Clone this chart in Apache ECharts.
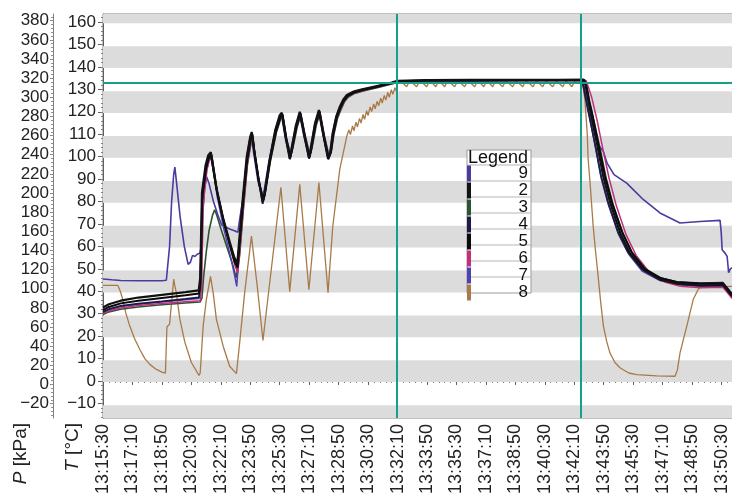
<!DOCTYPE html>
<html><head><meta charset="utf-8">
<script src="https://cdn.jsdelivr.net/npm/echarts@6/dist/echarts.min.js"></script>
<style>html,body{margin:0;padding:0;background:#fff}#c{width:732px;height:495px}</style>
</head><body><div id="c"></div>
<script>
// ---- axis ticks / labels ----
const START_TIME = '13:15:30';          // x = seconds after this time
const X_STEP = 100;                       // one tick label every 100 s
const T_TICKS = [-10,0,10,20,30,40,50,60,70,80,90,100,110,120,130,140,150,160];
const P_TICKS = [-20,0,20,40,60,80,100,120,140,160,180,200,220,240,260,280,300,320,340,360,380];
const LEGEND_ORDER = ['9','2','3','4','5','6','7','8'];
const HOLD_TEMP = 133.1;                  // horizontal reference line, °C
const PHASE_TIMES = [998, 1621];          // vertical reference lines, s

// ---- temperature series [s, °C] ----
const s2 = [[0,32.8],[20,34.2],[60,35.8],[120,37.2],[200,38.4],[280,39.6],[325,40.4],[330,46],[336,84],[341,89],[348,96],[357,100.5],[366,102],[372,97],[385,86],[407,73],[430,62],[446,55],[456,52.5],[462,62],[475,82],[488,100],[500,109],[505,111],[512,104],[527,91],[542,80],[548,83],[565,98],[585,112],[600,118.5],[607,119.6],[620,109],[634,99],[640,103],[655,114],[668,120],[683,110],[699,99.5],[705,103],[720,115],[733,120.8],[748,110],[764,99],[772,102],[780,110.5],[792,118],[804,122.3],[816,125.5],[828,127.5],[850,129],[880,130],[930,131.5],[980,133],[1000,133.8],[1100,134.1],[1250,134.2],[1400,134.3],[1550,134.3],[1632,134.4],[1638,132],[1645,127],[1654,121],[1677,106],[1698,91.5],[1722,79.5],[1756,66],[1789,57],[1835,49.5],[1891,45.2],[1948,43.4],[2027,42.6],[2105,42.8],[2136,37.8]];
const s3 = [[0,29.6],[20,30.8],[60,32],[120,33],[200,34],[280,34.8],[330,35.2],[336,37],[342,47],[351,58],[360,67],[372,74],[379,76.3],[386,74],[400,68],[420,60],[440,52],[452,46],[458,45.5],[464,56],[477,77],[490,96],[503,106.5],[509,108.5],[516,100],[531,87],[546,81],[552,84.5],[569,98.5],[589,111],[604,117],[611,118.2],[624,107.5],[638,100.5],[644,103.5],[659,113],[672,118.8],[687,109],[703,100.5],[709,103.5],[724,114],[737,119.5],[752,109],[768,100],[776,102.8],[784,110],[796,117],[808,121],[820,124.5],[832,126.5],[854,128.2],[884,129.3],[934,130.9],[984,132.5],[1004,133.4],[1100,133.7],[1250,133.8],[1400,133.9],[1550,134],[1636,134],[1644,130.5],[1652,124.5],[1665,117],[1687,104],[1708,90.5],[1732,78.5],[1766,65.5],[1800,56],[1845,49],[1900,45],[1955,43],[2030,42.2],[2105,42.3],[2136,37.2]];
const s4 = [[0,30.8],[20,32],[60,33.5],[120,34.5],[200,35.5],[280,36.6],[326,37.3],[331,43],[337,80],[342,87],[349,94],[358,99],[366,100.5],[373,95.5],[386,85],[408,72],[431,61],[447,54],[456,51],[462,60],[475,80.5],[488,99],[500,108.5],[506,110.2],[513,103],[528,90],[542,79],[548,82.5],[565,97.5],[585,111.5],[601,118],[608,119.2],[621,108.5],[635,98.8],[641,102.5],[656,113.8],[669,119.7],[684,109.5],[700,99],[706,102.5],[721,114.8],[734,120.5],[749,109.5],[765,98.8],[773,101.5],[781,110],[793,117.8],[805,122],[817,125.2],[829,127.2],[851,128.8],[881,129.9],[931,131.3],[981,132.9],[1001,133.7],[1100,133.9],[1250,134],[1400,134.1],[1550,134.2],[1626,134.2],[1632,131],[1638,126.5],[1647,120.5],[1670,106],[1690,92],[1714,80],[1748,66.5],[1782,57.5],[1830,50],[1891,46],[1948,44.2],[2027,43.6],[2105,43.8],[2136,38.8]];
const s5 = [[0,31.6],[20,33],[60,34.6],[120,35.8],[200,37],[280,38.2],[326,39],[331,45],[337,83],[343,88],[350,95],[359,99.5],[368,101],[375,95],[388,84],[410,71],[432,60],[447,53],[457,50.5],[463,60],[476,80],[489,98],[502,108],[507,110],[514,102],[529,89],[544,80.5],[550,84],[567,98],[587,111],[602,117.5],[609,118.8],[622,108],[636,100],[642,103.5],[657,113.5],[670,119.3],[685,109],[701,100],[707,103.5],[722,114.5],[735,120],[750,109],[766,99.5],[774,102.5],[782,110],[794,117.5],[806,121.8],[818,125],[830,127],[852,128.6],[882,129.7],[932,131.2],[982,132.8],[1002,133.6],[1100,133.9],[1250,134],[1400,134.1],[1550,134.1],[1634,134.2],[1642,131],[1650,125],[1660,119.5],[1682,105.5],[1704,91.5],[1728,79.5],[1762,66.5],[1795,57.5],[1840,50],[1895,45.8],[1950,44],[2030,43.3],[2105,43.4],[2136,38.2]];
const s6 = [[0,30],[20,31.2],[60,32.5],[120,33.6],[200,34.5],[280,35.3],[330,35.8],[335,42],[340,78],[346,86],[353,94],[362,99],[370,100],[377,93],[390,82],[412,70],[434,58.5],[449,51],[458,48.2],[464,58],[477,78],[490,97],[503,107],[508,109],[515,101],[530,88],[545,82],[551,85],[568,99],[588,112],[603,118],[610,119],[623,108],[637,101],[643,104],[658,114],[671,119.5],[686,109.5],[702,100.5],[708,104],[723,115],[736,120.3],[751,109.5],[767,100],[775,103],[783,110.5],[795,117.5],[807,121.5],[819,124.8],[831,126.8],[853,128.4],[883,129.5],[933,131],[983,132.6],[1003,133.5],[1100,133.8],[1250,133.9],[1400,134],[1550,134],[1640,134],[1648,131],[1660,126],[1677,116.5],[1697,103.5],[1718,90.5],[1742,78.5],[1775,65.5],[1810,56],[1855,48.5],[1910,44],[1960,42.2],[2030,41.6],[2105,41.8],[2136,36.8]];
const s7 = [[0,30.4],[20,31.8],[60,33.2],[120,34.2],[200,35.2],[280,36.2],[326,36.8],[331,42],[337,79],[343,86],[350,93],[359,98],[367,99.5],[374,94],[388,82],[410,68],[432,56],[447,47],[454,42.2],[461,55],[474,77],[487,97],[499,107],[504,109],[511,102],[526,89],[541,82],[547,85],[564,98.5],[584,111],[599,117.2],[606,118.5],[619,108],[633,100.5],[639,104],[654,113.5],[667,119],[682,109],[698,100.5],[704,104],[719,114.5],[732,120],[747,109.5],[763,100],[771,103],[779,110.5],[791,117.5],[803,121.5],[815,125],[827,127],[849,128.6],[879,129.7],[929,131.2],[979,132.8],[999,133.6],[1100,133.9],[1250,134],[1400,134.1],[1550,134.1],[1627,134.1],[1633,130],[1640,125.5],[1650,119],[1672,104],[1692,90],[1716,78.5],[1750,65.5],[1785,56.5],[1830,49],[1891,44.8],[1948,43],[2027,42.3],[2105,42.5],[2136,37.6]];
const s9 = [[0,45.5],[30,45.1],[60,44.8],[120,44.7],[200,44.7],[215,44.9],[220,45.5],[226,60],[233,80],[240,92],[244,95.3],[250,88],[262,73],[276,60],[289,52],[297,53],[304,56],[312,55.5],[320,56.5],[329,57],[334,60],[339,75],[345,86],[352,91],[360,88],[375,80],[390,74],[403,69.5],[413,68.8],[430,67.8],[446,67],[458,66.3],[464,72],[476,82],[489,98],[501,107.5],[506,109.5],[513,102],[528,90],[543,81],[549,84],[566,98],[586,111],[601,117.5],[608,118.6],[621,108],[635,100],[641,103],[656,113],[669,119],[684,109],[700,100],[706,103],[721,114],[734,120],[749,109],[765,99.5],[773,102.5],[781,110],[793,117.5],[805,121.5],[817,125],[829,127],[851,128.6],[881,129.7],[931,131.2],[981,132.8],[1001,133.6],[1100,133.8],[1250,133.9],[1400,134],[1550,134],[1628,134],[1634,130.5],[1641,126],[1652,119.5],[1668,111],[1677,106.5],[1686,104.5],[1692,105],[1698,102.5],[1712,97],[1735,92],[1778,88.2],[1835,80.8],[1891,74.9],[1959,70.4],[2027,71.1],[2095,71.6],[2099,66],[2102,58.5],[2112,57],[2119,55.5],[2124,48.3],[2130,50],[2136,50.5]];

// ---- pressure series [s, kPa] ----
const s8 = [[0,103.6],[50,103.6],[58,98],[67,89],[78,74],[91,61],[107,48],[125,36.5],[142,27],[159,21],[180,16],[200,13],[212,12],[217,60],[222,62],[226,63],[240,110],[244,103],[249,96],[261,68],[278,44],[300,23],[326,9.5],[330,12],[340,61],[351,89],[365,113],[374,96],[385,68],[408,40],[430,19],[453,11.4],[464,43.6],[481,96],[504,155],[525,99],[543,46],[604,206],[634,97],[668,209],[699,99],[733,211],[764,96],[780,165],[804,225],[828,259.6],[835,266],[840,261],[847,270],[852,265],[859,274],[864,269],[871,278],[876,273],[883,282],[888,277],[895,286],[900,281],[907,290],[912,285],[919,293],[924,288],[931,296],[936,291],[943,299],[948,294],[955,302],[960,297],[967,305],[972,300],[979,308],[984,303],[991,310],[996,306],[1000,316],[1009,317.5],[1031,311],[1042,317.5],[1065,311],[1076,317.5],[1099,311],[1110,317.5],[1130,311],[1141,317.5],[1160,311],[1171,317.5],[1194,311],[1205,317.5],[1228,311],[1239,317.5],[1262,311],[1273,317.5],[1293,311],[1304,317.5],[1323,311],[1334,317.5],[1357,311],[1368,317.5],[1391,311],[1402,317.5],[1425,311],[1436,317.5],[1460,311],[1471,317.5],[1493,311],[1504,317.5],[1527,311],[1538,317.5],[1561,311],[1572,317.5],[1592,311],[1603,317.5],[1622,317.5],[1627,314],[1632,306],[1636,298],[1640,280],[1644,262],[1647,236],[1655,205],[1664,166],[1672,140],[1681,113],[1690,85],[1699,61],[1710,45],[1721,33],[1738,23],[1755,17.5],[1785,12],[1812,10.4],[1880,9],[1942,8.6],[1950,15],[1959,33],[1982,61],[2004,89],[2021,99.5],[2028,101.5],[2033,102.5],[2140,102.5]];

const COLORS = {'9':'#4a3c9e','2':'#121212','3':'#2a5530','4':'#1e1a46','5':'#0a0a0a','6':'#c0307c','7':'#4c43b0','8':'#a87a48'};
const FONT = 'Liberation Sans, Arial, sans-serif';

// ---- helpers ----
function fmtTime(v){
  const p = START_TIME.split(':').map(Number);
  const t = p[0]*3600 + p[1]*60 + p[2] + v;
  const h = Math.floor(t/3600), m = Math.floor((t%3600)/60), s = Math.round(t%60);
  return h + ':' + String(m).padStart(2,'0') + ':' + String(s).padStart(2,'0');
}
const minus = v => String(v).replace('-', '\u2212');
const T_RANGE = [-16.5, 163.6], P_RANGE = [-35, 387];
const T_MINOR = [], P_MINOR = [];
for (let v = T_TICKS[0]-6; v <= T_TICKS[T_TICKS.length-1]+2; v += 2) if (v > T_RANGE[0] && v < T_RANGE[1]) T_MINOR.push(v);
for (let v = P_TICKS[0]-12; v <= P_TICKS[P_TICKS.length-1]+4; v += 4) if (v > P_RANGE[0] && v < P_RANGE[1]) P_MINOR.push(v);
// grey bands every second 10 °C step
const bands = [];
for (let v = T_TICKS[0]-10; v <= T_TICKS[T_TICKS.length-1]; v += 20) {
  const a = Math.max(v - 0.5, T_RANGE[0]), b = Math.min(v + 9.2, T_RANGE[1]);
  if (b > a) bands.push([{yAxis: a}, {yAxis: b}]);
}

function line(name, data, width, axis, extra){
  return Object.assign({
    name, type:'line', data, yAxisIndex: axis, symbol:'none', showSymbol:false,
    lineStyle:{color:COLORS[name], width}, itemStyle:{color:COLORS[name]},
    emphasis:{disabled:true}, animation:false
  }, extra || {});
}

const axisCommon = {color:'#222', fontFamily:FONT, fontSize:17};
const chart = echarts.init(document.getElementById('c'), null, {renderer:'canvas'});
chart.setOption({
  backgroundColor:'#fff',
  animation:false,
  grid:{left:103, top:14, width:648, height:404, outerBoundsMode:'none', containLabel:false,
    show:true, borderColor:'#808080', borderWidth:1, backgroundColor:'#fff'},
  xAxis:{type:'value', min:0, max:2200, interval:X_STEP,
    axisLine:{show:true, lineStyle:{color:'#606060'}},
    axisTick:{show:true, length:4, lineStyle:{color:'#606060'}},
    minorTick:{show:true, splitNumber:5, length:2, lineStyle:{color:'#808080'}},
    axisLabel:{rotate:90, margin:6, fontSize:18, color:'#222', fontFamily:FONT, formatter:fmtTime},
    splitLine:{show:false}},
  yAxis:[
    {type:'value', min:T_RANGE[0], max:T_RANGE[1], position:'left',
      axisLine:{show:true, lineStyle:{color:'#606060'}},
      axisTick:{show:true, length:5, customValues:T_TICKS, lineStyle:{color:'#606060'}},
      axisLabel:Object.assign({customValues:T_TICKS, formatter:minus, margin:7}, axisCommon),
      splitLine:{show:false}},
    {type:'value', min:P_RANGE[0], max:P_RANGE[1], position:'left', offset:50,
      axisLine:{show:true, lineStyle:{color:'#808080'}},
      axisTick:{show:true, length:3, customValues:P_TICKS, lineStyle:{color:'#808080'}},
      axisLabel:Object.assign({customValues:P_TICKS, formatter:minus, margin:4}, axisCommon),
      splitLine:{show:false}},
    {type:'value', min:T_RANGE[0], max:T_RANGE[1], position:'left',
      axisLine:{show:false}, axisLabel:{show:false}, splitLine:{show:false},
      axisTick:{show:true, length:2, customValues:T_MINOR, lineStyle:{color:'#808080'}}},
    {type:'value', min:P_RANGE[0], max:P_RANGE[1], position:'left', offset:50,
      axisLine:{show:false}, axisLabel:{show:false}, splitLine:{show:false},
      axisTick:{show:true, length:2, customValues:P_MINOR, lineStyle:{color:'#909090'}}}
  ],
  legend:{data:LEGEND_ORDER, orient:'vertical', left:467, top:165, padding:0, itemGap:0,
    itemWidth:4, itemHeight:16, icon:'rect', itemStyle:{borderWidth:0},
    formatter: n => '{n|' + n + '}',
    textStyle:{color:'#111', fontFamily:FONT, fontSize:17, lineHeight:16,
      rich:{n:{width:52, align:'right', fontSize:17, lineHeight:16, fontFamily:FONT, color:'#111'}}}},
  graphic:[
    {type:'rect', z:3, shape:{x:467, y:150, width:64, height:143}, style:{fill:'#fff', stroke:'#9a9a9a', lineWidth:1}},
    ...[165,181,197,213,229,245,261,277].map(y => ({type:'line', z:3, shape:{x1:467, y1:y, x2:531, y2:y}, style:{stroke:'#b5b5b5', lineWidth:1}})),
    {type:'text', z:6, x:468, y:158, style:{text:'Legend', fill:'#111', font:'18px ' + FONT, verticalAlign:'middle', align:'left'}},
    {type:'text', z:6, x:21, y:423, rotation:Math.PI/2, style:{text:'{i|P} [kPa]', fill:'#222', font:'19px ' + FONT, align:'right', verticalAlign:'middle', rich:{i:{fontStyle:'italic', font:'italic 19px ' + FONT, fill:'#222'}}}},
    {type:'text', z:6, x:73, y:423, rotation:Math.PI/2, style:{text:'{i|T} [°C]', fill:'#222', font:'19px ' + FONT, align:'right', verticalAlign:'middle', rich:{i:{fontStyle:'italic', font:'italic 19px ' + FONT, fill:'#222'}}}}
  ],
  series:[
    line('8', s8, 1.3, 1),
    line('3', s3, 1.6, 0),
    line('9', s9, 1.6, 0),
    line('7', s7, 1.5, 0),
    line('6', s6, 1.5, 0),
    line('4', s4, 1.8, 0),
    line('5', s5, 2, 0),
    line('2', s2, 2.2, 0, {
      markArea:{silent:true, label:{show:false}, itemStyle:{color:'#dcdcdc'}, data:bands},
      markLine:{silent:true, symbol:'none', animation:false, label:{show:false},
        lineStyle:{color:'#14a08a', width:2, type:'solid'},
        data:[...PHASE_TIMES.map(t => ({xAxis:t})), {yAxis:HOLD_TEMP}]}
    })
  ]
});
</script></body></html>
